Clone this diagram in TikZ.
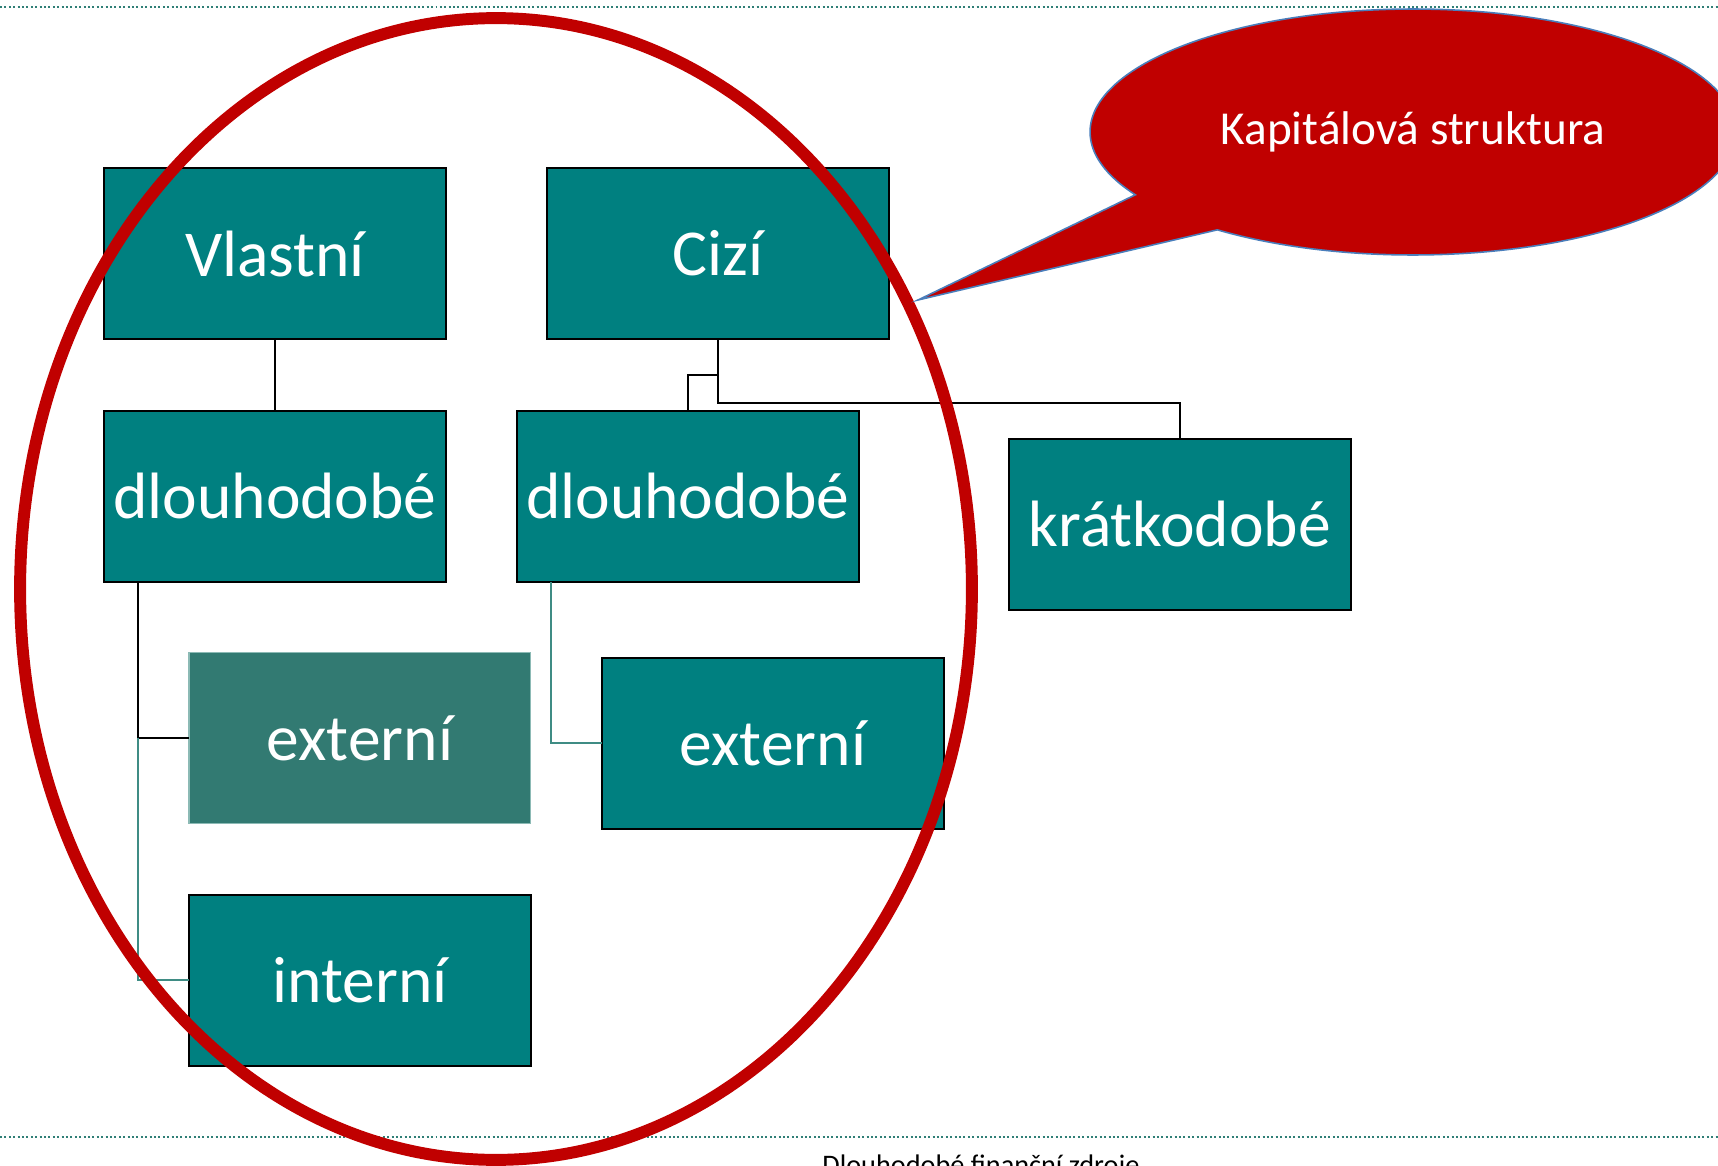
\documentclass[tikz,border=0pt]{standalone}
\usepackage{fontspec}
\setmainfont{Carlito}
\usepackage{tikz}
\usetikzlibrary{positioning,calc,shapes.callouts}

\definecolor{boxteal}{HTML}{008080}
\definecolor{softteal}{HTML}{327A72}
\definecolor{ringred}{HTML}{C00000}
\definecolor{linkteal}{HTML}{3F8C84}
\definecolor{dotteal}{HTML}{2F7F76}
\definecolor{callblue}{HTML}{4A7EBB}

\begin{document}
\begin{tikzpicture}[
  x=0.02cm, y=-0.02cm,
  node distance=1.44cm and 2.02cm,
  box/.style={draw=black, line width=1.3pt, fill=boxteal, text=white, minimum width=6.84cm, minimum height=3.42cm, outer sep=0pt, inner sep=0pt, font=\fontsize{37.3}{44}\selectfont},
  softbox/.style={box, draw=linkteal!60, line width=0.6pt, fill=softteal},
  link/.style={draw=black, line width=1.1pt},
  tlink/.style={draw=linkteal, line width=1.1pt},
  ring/.style={draw=ringred, line width=6.8pt},
  bubble/.style={ellipse callout, draw=callblue, line width=0.9pt, fill=ringred, text=white, minimum width=12.92cm, minimum height=4.92cm, callout absolute pointer={(918,300)}, callout pointer arc=22, font=\fontsize{26.9}{32}\selectfont},
  dotline/.style={draw=dotteal, line width=1.1pt, dash pattern=on 0.04cm off 0.048cm}
]
\useasboundingbox (0,0) rectangle (1718,1166);
\draw[dotline] (0,7) -- (1718,7);
\draw[dotline] (0,1137) -- (1718,1137);

% boxes
\node[box] (vlastni) at (275,253.5) {Vlastní};
\node[box, right=of vlastni] (cizi) {Cizí};
\node[box, below=of vlastni] (dlL) {dlouhodobé};
\node[box, below=of cizi, xshift=-0.6cm] (dlR) {dlouhodobé};
\node[box, right=3cm of dlR, yshift=-0.56cm] (kratk) {krátkodobé};
\node[softbox, below=1.42cm of dlL, xshift=1.7cm] (extL) {externí};
\node[box, below=1.42cm of extL] (intL) {interní};
\node[box, below=1.52cm of dlR, xshift=1.7cm] (extR) {externí};

% connectors
\draw[link] (vlastni.south) -- (dlL.north);
\draw[link] (cizi.south) -- ++(0,36) -| (dlR.north);
\draw[link] (cizi.south) -- ++(0,64) -| (kratk.north);
\coordinate (tL) at ($(dlL.south west)+(34,0)$);
\draw[link] (tL) |- (extL.west);
\draw[tlink] (tL |- extL.west) |- (intL.west);
\coordinate (tR) at ($(dlR.south west)+(34,0)$);
\draw[tlink] (tR) |- (extR.west);

% ring and callout
\draw[ring] (496,589) ellipse [x radius=9.52cm, y radius=11.42cm];
\node[bubble] (kap) at (1413,132) {Kapitálová struktura};

\node[font=\fontsize{16.1}{19}\selectfont, anchor=base] (foot) at (981,1174) {Dlouhodobé finanční zdroje};
\end{tikzpicture}
\end{document}
